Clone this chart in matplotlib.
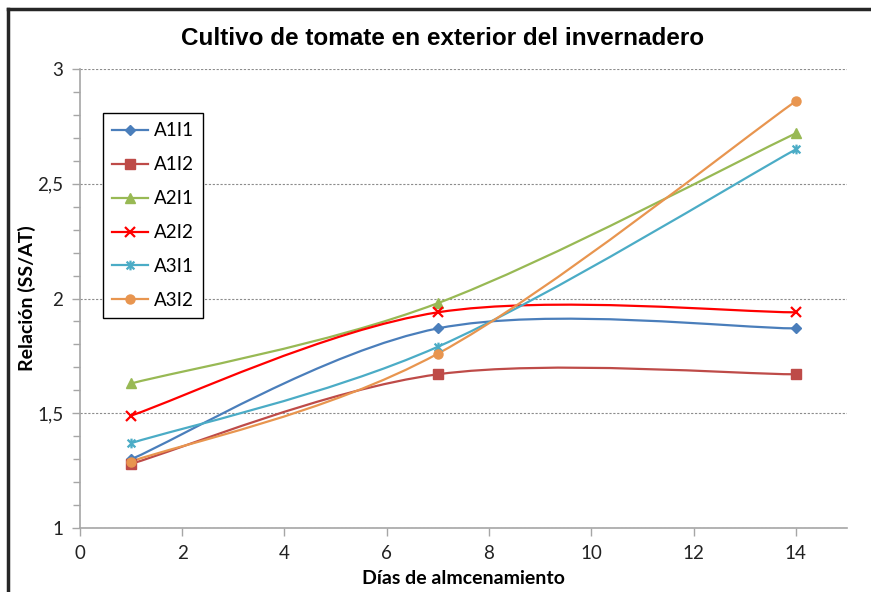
import matplotlib
matplotlib.use("Agg")
import matplotlib.pyplot as plt
from matplotlib.path import Path
from matplotlib.patches import PathPatch
from matplotlib.lines import Line2D
from matplotlib.ticker import MultipleLocator, FuncFormatter

# data
dias = [1, 7, 14]
series_names = ["A1I1", "A1I2", "A2I1", "A2I2", "A3I1", "A3I2"]
a1i1 = [1.30, 1.87, 1.87]
a1i2 = [1.28, 1.67, 1.67]
a2i1 = [1.63, 1.98, 2.72]
a2i2 = [1.49, 1.94, 1.94]
a3i1 = [1.37, 1.79, 2.65]
a3i2 = [1.29, 1.76, 2.86]
all_values = [a1i1, a1i2, a2i1, a2i2, a3i1, a3i2]

colors = ["#4A7EBB", "#BE4B48", "#98B954", "#FF0000", "#4BACC6", "#E8954F"]

# Excel-like star marker: an X with a vertical bar
star = Path(
    [(-1, -1), (1, 1), (-1, 1), (1, -1), (0, -1.25), (0, 1.25)],
    [Path.MOVETO, Path.LINETO, Path.MOVETO, Path.LINETO, Path.MOVETO, Path.LINETO],
)
markers = ["D", "s", "^", "x", star, "o"]
msizes = [5, 6.5, 7, 7, 7, 6.5]


def smooth_path(xs, ys, t=1.0 / 6):
    """Bezier path through the points, like Excel's smoothed line."""
    pts = list(zip(xs, ys))
    n = len(pts)
    verts = [pts[0]]
    codes = [Path.MOVETO]
    for i in range(n - 1):
        p0 = pts[i - 1] if i > 0 else pts[i]
        p1 = pts[i]
        p2 = pts[i + 1]
        p3 = pts[i + 2] if i + 2 < n else pts[i + 1]
        c1 = (p1[0] + (p2[0] - p0[0]) * t, p1[1] + (p2[1] - p0[1]) * t)
        c2 = (p2[0] - (p3[0] - p1[0]) * t, p2[1] - (p3[1] - p1[1]) * t)
        verts += [c1, c2, p2]
        codes += [Path.CURVE4] * 3
    return Path(verts, codes)


plt.rcParams["font.family"] = ["Lato", "DejaVu Sans"]

fig = plt.figure(figsize=(8.71, 5.92), dpi=100)
ax = fig.add_axes([0.0918, 0.108, 0.8806, 0.7754])

handles = []
for name, vals, col, mk, ms in zip(series_names, all_values, colors, markers, msizes):
    ax.add_patch(PathPatch(smooth_path(dias, vals), fill=False, edgecolor=col,
                           linewidth=1.6, zorder=3))
    mew = 1.6 if (mk == "x" or mk is star) else 1
    ax.plot(dias, vals, linestyle="none", marker=mk, markersize=ms,
            color=col, markeredgecolor=col, markeredgewidth=mew, zorder=4)
    handles.append(Line2D([], [], color=col, linewidth=1.6, marker=mk,
                          markersize=ms, markeredgecolor=col,
                          markeredgewidth=mew))

ax.set_xlim(0, 15)
ax.set_ylim(1, 3)
ax.xaxis.set_major_locator(MultipleLocator(2))
ax.yaxis.set_major_locator(MultipleLocator(0.5))
ax.yaxis.set_minor_locator(MultipleLocator(0.1))
ax.xaxis.set_major_formatter(FuncFormatter(lambda v, p: f"{v:g}"))
ax.yaxis.set_major_formatter(FuncFormatter(lambda v, p: f"{v:g}".replace(".", ",")))

axis_gray = "#A6A6A6"
for side in ("top", "right"):
    ax.spines[side].set_visible(False)
for side in ("left", "bottom"):
    ax.spines[side].set_color(axis_gray)
    ax.spines[side].set_linewidth(1.2)
ax.tick_params(axis="both", which="both", direction="out", color=axis_gray,
               width=1, labelsize=13.5, labelcolor="#222222")
ax.tick_params(axis="both", which="major", length=6, pad=6)
ax.tick_params(axis="y", which="minor", length=5)
ax.yaxis.grid(True, which="major", linestyle=(0, (2, 1.5)), color="#8C8C8C",
              linewidth=0.8)
ax.set_axisbelow(True)

ax.set_xlabel("Días de almcenamiento", fontsize=14, fontweight="bold")
ax.xaxis.set_label_coords(0.5, -(578 - 528) / 459)
ax.set_ylabel("Relación (SS/AT)", fontsize=14, fontweight="bold")
ax.yaxis.set_label_coords(-(80 - 27) / 767, 0.5)
ax.xaxis.label.set_va("center")
ax.yaxis.label.set_va("center")

fig.text(0.508, 0.935, "Cultivo de tomate en exterior del invernadero",
         ha="center", va="center", fontsize=17.5, fontweight="bold",
         family="Liberation Sans")

leg = ax.legend(handles, series_names, loc="upper left",
                bbox_to_anchor=(0.03, 0.904), borderaxespad=0, fontsize=13.5,
                labelspacing=0.9, handlelength=1.9, handletextpad=0.3,
                borderpad=0.5, fancybox=False, framealpha=1)
leg.get_frame().set_edgecolor("black")
leg.get_frame().set_linewidth(1)

# dark outer frame (top and left edges)
fig.add_artist(Line2D([8 / 871, 1.0], [1 - 9 / 592, 1 - 9 / 592],
                      transform=fig.transFigure, color="#262626", linewidth=2.5))
fig.add_artist(Line2D([8 / 871, 8 / 871], [1 - 9 / 592, 0.0],
                      transform=fig.transFigure, color="#262626", linewidth=2.5))

fig.savefig("out.png", dpi=100)
